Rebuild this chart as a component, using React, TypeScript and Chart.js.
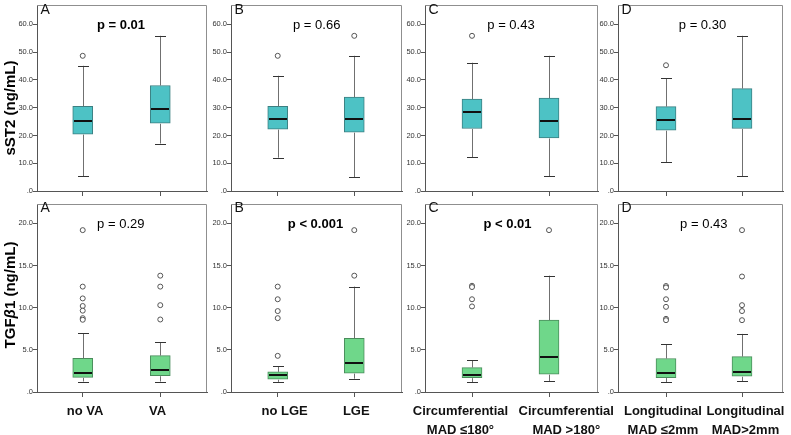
import React, { useEffect, useRef } from 'react';
import { Chart, registerables } from 'chart.js';

Chart.register(...registerables);

const FONT = '"Liberation Sans", Arial, Helvetica, sans-serif';
Chart.defaults.font.family = FONT;

// ---------------- data ----------------
const PANEL_LETTERS = ['A', 'B', 'C', 'D'];

const GROUP_LABELS: (string | string[])[][] = [
  ['no VA', 'VA'],
  ['no LGE', 'LGE'],
  [['Circumferential', 'MAD ≤180°'], ['Circumferential', 'MAD >180°']],
  [['Longitudinal', 'MAD ≤2mm'], ['Longitudinal', 'MAD>2mm']],
];

const SST2_P = ['p = 0.01', 'p = 0.66', 'p = 0.43', 'p = 0.30'];
const SST2_P_BOLD = [true, false, false, false];
const TGF_P = ['p = 0.29', 'p < 0.001', 'p < 0.01', 'p = 0.43'];
const TGF_P_BOLD = [false, true, true, false];

// [lower whisker, Q1, median, Q3, upper whisker], two groups per panel
const SST2_BOXES = [
  [[5.4, 20.5, 25.2, 30.5, 45.1], [17.1, 24.4, 29.5, 38.0, 55.9]],
  [[12.0, 22.3, 25.8, 30.5, 41.5], [5.0, 21.2, 26.0, 33.8, 48.7]],
  [[12.2, 22.5, 28.4, 33.1, 46.2], [5.3, 19.1, 25.2, 33.5, 48.7]],
  [[10.3, 21.9, 25.6, 30.4, 40.6], [5.4, 22.5, 26.1, 36.9, 55.9]],
];
const SST2_OUTLIERS = [
  [[48.7], []],
  [[48.7], [55.9]],
  [[55.9], []],
  [[45.3], []],
];

const TGF_BOXES = [
  [[1.24, 1.74, 2.28, 3.98, 6.95], [1.24, 1.93, 2.66, 4.32, 5.9]],
  [[1.2, 1.51, 1.97, 2.39, 3.05], [1.58, 2.24, 3.44, 6.37, 12.5]],
  [[1.16, 1.7, 2.05, 2.9, 3.78], [1.31, 2.12, 4.21, 8.53, 13.8]],
  [[1.13, 1.71, 2.22, 3.97, 5.64], [1.28, 1.87, 2.33, 4.2, 6.89]],
];
const TGF_OUTLIERS = [
  [[19.2, 12.5, 11.1, 10.2, 9.65, 8.76, 8.57], [13.8, 12.5, 10.3, 8.6]],
  [[12.5, 11.0, 9.6, 8.76, 4.29], [19.2, 13.8]],
  [[12.6, 12.45, 11.0, 10.15], [19.2]],
  [[12.57, 12.4, 11.0, 10.1, 8.68, 8.52], [19.2, 13.7, 10.3, 9.6, 8.52]],
];

const SST2_TICKS = [0, 10, 20, 30, 40, 50, 60];
const TGF_TICKS = [0, 5, 10, 15, 20];
const SST2_YMAX = 67;
const TGF_YMAX = 22.3;

// ---------------- layout ----------------
const COLS = [
  { L: 37, R: 208, b1: 83, b2: 161, padR: 4 },
  { L: 231, R: 403, b1: 278, b2: 355, padR: 4 },
  { L: 425, R: 598, b1: 472, b2: 549, padR: 32 },
  { L: 618, R: 783, b1: 666, b2: 742, padR: 8 },
];
const ROWS = [
  { top: 0, bottom: 191, xAxisH: 8, labelH: 0 },
  { top: 199, bottom: 392, xAxisH: 5, labelH: 38 },
];
const LABEL_POS = [
  [0.03, 0.965],
  [0.09, 1.026],
  [-0.15, 1.224],
  [-0.04, 1.045],
];
const Y_AXIS_W = 37;

const STYLES = [
  { fill: '#4DC2C5', stroke: '#3C7F81' },
  { fill: '#6FD78A', stroke: '#4A8C5B' },
];

function BoxPanel(props: { col: number; row: number }) {
  const { col, row } = props;
  const ref = useRef<HTMLCanvasElement | null>(null);
  const c = COLS[col];
  const r = ROWS[row];
  const canvasLeft = c.L - Y_AXIS_W;
  const width = c.R - c.L + Y_AXIS_W + c.padR;
  const height = r.bottom - r.top + r.xAxisH + r.labelH;

  useEffect(() => {
    const boxes = row === 0 ? SST2_BOXES[col] : TGF_BOXES[col];
    const outliers = row === 0 ? SST2_OUTLIERS[col] : TGF_OUTLIERS[col];
    const tickVals = row === 0 ? SST2_TICKS : TGF_TICKS;
    const yMax = row === 0 ? SST2_YMAX : TGF_YMAX;
    const st = STYLES[row];
    const d = c.b2 - c.b1;
    const xMin = -(c.b1 - c.L) / d;
    const xMax = 1 + (c.R - c.b2) / d;

    const boxPlugin = {
      id: 'boxWhiskers',
      afterDatasetsDraw(chart: any) {
        const ctx = chart.ctx;
        const x = chart.scales.x;
        const y = chart.scales.y;
        ctx.save();
        boxes.forEach((b: number[], i: number) => {
          const cx = Math.round(x.getPixelForValue(i));
          const lo = y.getPixelForValue(b[0]);
          const q1 = y.getPixelForValue(b[1]);
          const med = y.getPixelForValue(b[2]);
          const q3 = y.getPixelForValue(b[3]);
          const hi = y.getPixelForValue(b[4]);
          ctx.lineWidth = 1;
          ctx.strokeStyle = '#707070';
          ctx.beginPath();
          ctx.moveTo(cx + 0.5, hi);
          ctx.lineTo(cx + 0.5, q3);
          ctx.moveTo(cx + 0.5, q1 + 0.5);
          ctx.lineTo(cx + 0.5, lo);
          ctx.stroke();
          ctx.strokeStyle = '#333';
          ctx.beginPath();
          const hy = Math.round(hi) + 0.5;
          const ly = Math.round(lo) + 0.5;
          ctx.moveTo(cx - 5, hy);
          ctx.lineTo(cx + 6, hy);
          ctx.moveTo(cx - 5, ly);
          ctx.lineTo(cx + 6, ly);
          ctx.stroke();
          ctx.strokeStyle = '#111';
          ctx.lineWidth = 2;
          ctx.beginPath();
          const my = Math.round(med);
          ctx.moveTo(cx - 9, my);
          ctx.lineTo(cx + 9, my);
          ctx.stroke();
        });
        const { left, right, top, bottom } = chart.chartArea;
        ctx.strokeStyle = '#8f8f8f';
        ctx.lineWidth = 1;
        ctx.beginPath();
        ctx.moveTo(left, top + 0.5);
        ctx.lineTo(right - 0.5, top + 0.5);
        ctx.lineTo(right - 0.5, bottom);
        ctx.stroke();
        ctx.restore();
      },
    };

    const scales: any = {
      x: {
        type: 'linear',
        position: 'bottom',
        weight: 0,
        min: xMin,
        max: xMax,
        offset: false,
        afterBuildTicks: (s: any) => {
          s.ticks = [{ value: 0 }, { value: 1 }];
        },
        ticks: { display: false },
        grid: {
          display: true,
          offset: false,
          drawOnChartArea: false,
          drawTicks: true,
          tickLength: 5,
          color: '#555',
        },
        border: { display: true, color: '#555' },
        afterFit: (s: any) => {
          s.height = r.xAxisH;
        },
      },
      y: {
        type: 'linear',
        min: 0,
        max: yMax,
        afterBuildTicks: (s: any) => {
          s.ticks = tickVals.map((v) => ({ value: v }));
        },
        ticks: {
          callback: (v: any) => (Number(v) === 0 ? '.0' : Number(v).toFixed(1)),
          font: { size: 7.5, family: FONT },
          color: '#333',
          padding: 0,
        },
        grid: { drawOnChartArea: false, tickLength: 4, color: '#555' },
        border: { color: '#555' },
        afterFit: (s: any) => {
          s.width = Y_AXIS_W;
        },
      },
    };
    if (row === 1) {
      const labels = GROUP_LABELS[col];
      scales.xl = {
        type: 'linear',
        position: 'bottom',
        weight: 1,
        min: xMin,
        max: xMax,
        offset: false,
        afterBuildTicks: (s: any) => {
          s.ticks = LABEL_POS[col].map((v) => ({ value: v }));
        },
        ticks: {
          autoSkip: false,
          maxRotation: 0,
          minRotation: 0,
          padding: 4.5,
          color: '#111',
          font: { size: 13, weight: 'bold', family: FONT, lineHeight: 1.5 },
          callback: (_v: any, i: number) => labels[i],
        },
        grid: { display: false, drawTicks: false, drawOnChartArea: false },
        border: { display: false },
        afterFit: (s: any) => {
          s.height = r.labelH;
        },
      };
    }

    const cfg: any = {
      type: 'bar',
      data: {
        datasets: [
          {
            type: 'bar',
            data: boxes.map((b: number[], i: number) => ({ x: i, y: [b[1], b[3]] })),
            backgroundColor: st.fill,
            borderColor: st.stroke,
            borderWidth: 1,
            borderSkipped: false,
            barThickness: 20,
            order: 2,
          },
          {
            type: 'scatter',
            data: outliers.flatMap((arr: number[], i: number) => arr.map((v) => ({ x: i, y: v }))),
            pointRadius: 2.5,
            pointBorderWidth: 1,
            pointBorderColor: '#555',
            pointBackgroundColor: '#fff',
            order: 1,
          },
        ],
      },
      options: {
        responsive: false,
        animation: false,
        devicePixelRatio: 1,
        events: [],
        layout: { padding: { left: 0, top: 0, right: c.padR, bottom: 0 } },
        plugins: { legend: { display: false }, tooltip: { enabled: false } },
        scales,
      },
      plugins: [boxPlugin],
    };
    const chart = new Chart(ref.current as HTMLCanvasElement, cfg);
    return () => chart.destroy();
  }, []);

  return (
    <canvas
      ref={ref}
      width={width}
      height={height}
      style={{ position: 'absolute', left: canvasLeft, top: r.top, width, height }}
    />
  );
}

const P_CENTERS = [
  [121, 316.7, 511, 702.5],
  [120.8, 315.5, 507.5, 703.8],
];
const P_TOPS = [18.3, 217.3];
const LETTER_TOPS = [2.2, 200];

export default function App() {
  const texts: any[] = [];
  [0, 1].forEach((row) => {
    COLS.forEach((c, col) => {
      texts.push(
        <div
          key={`l${row}${col}`}
          style={{
            position: 'absolute',
            left: c.L + 3.5,
            top: LETTER_TOPS[row],
            fontSize: 14,
            lineHeight: '14px',
            color: '#111',
          }}
        >
          {PANEL_LETTERS[col]}
        </div>
      );
      const p = row === 0 ? SST2_P[col] : TGF_P[col];
      const bold = row === 0 ? SST2_P_BOLD[col] : TGF_P_BOLD[col];
      texts.push(
        <div
          key={`p${row}${col}`}
          style={{
            position: 'absolute',
            left: P_CENTERS[row][col],
            top: P_TOPS[row],
            transform: 'translateX(-50%)',
            fontSize: 13,
            lineHeight: '13px',
            fontWeight: bold ? 'bold' : 'normal',
            whiteSpace: 'nowrap',
            color: '#000',
          }}
        >
          {p}
        </div>
      );
    });
  });

  const rowTitle = (content: any, cy: number, key: string) => (
    <div
      key={key}
      style={{
        position: 'absolute',
        left: 8.5,
        top: cy,
        transform: 'translate(-50%, -50%) rotate(-90deg)',
        fontSize: 15,
        lineHeight: '15px',
        fontWeight: 'bold',
        whiteSpace: 'nowrap',
        color: '#000',
      }}
    >
      {content}
    </div>
  );

  return (
    <div
      style={{
        position: 'fixed',
        left: 0,
        top: 0,
        width: 791,
        height: 435,
        overflow: 'hidden',
        background: '#fff',
        fontFamily: FONT,
      }}
    >
      {[0, 1].map((row) => COLS.map((_c, col) => <BoxPanel key={`c${row}${col}`} col={col} row={row} />))}
      {texts}
      {rowTitle('sST2 (ng/mL)', 108.3, 't0')}
      {rowTitle(
        <span>
          TGF<i>β</i>1 (ng/mL)
        </span>,
        295,
        't1'
      )}
    </div>
  );
}
